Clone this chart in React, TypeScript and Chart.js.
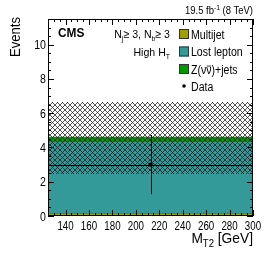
import React, { useEffect, useRef } from "react";
import { Chart, registerables } from "chart.js";

Chart.register(...registerables);

// ---- data ----
const binEdges = [125, 300];
const multijet = [0.17];
const lostLepton = [4.15];
const zinv = [0.3];
const bkgUncLow = [2.45];
const bkgUncHigh = [6.65];
const dataX = [212.5];
const dataY = [3];
const dataErr = [1.73];
const xTickLabels = [140, 160, 180, 200, 220, 240, 260, 280, 300];
const yTickLabels = [0, 2, 4, 6, 8, 10];
const legendLabels = ["Multijet", "Lost lepton", "Z(νν)+jets", "Data"];

const COL_MJ = "#a0a000";
const COL_MJ_LINE = "#5e5e00";
const COL_LL = "#339999";
const COL_Z = "#009a00";

const FONT = '"Liberation Sans", Arial, Helvetica, sans-serif';

function histPoints(edges: number[], vals: number[]) {
  const pts: { x: number; y: number }[] = [];
  for (let i = 0; i < vals.length; i++) {
    pts.push({ x: edges[i], y: vals[i] });
    pts.push({ x: edges[i + 1], y: vals[i] });
  }
  return pts;
}

function makeHatch() {
  const s = 5;
  const c = document.createElement("canvas");
  c.width = s;
  c.height = s;
  const g = c.getContext("2d")!;
  g.strokeStyle = "rgba(20,20,20,0.85)";
  g.lineWidth = 0.85;
  g.beginPath();
  g.moveTo(-1, -1);
  g.lineTo(s + 1, s + 1);
  g.moveTo(s + 1, -1);
  g.lineTo(-1, s + 1);
  g.stroke();
  return g.createPattern(c, "repeat")!;
}

type Part = { t: string; size: number; dy?: number; bold?: boolean; over?: boolean };

function drawRich(
  ctx: CanvasRenderingContext2D,
  parts: Part[],
  x: number,
  y: number,
  align: "left" | "right" | "center",
  sx = 0.9
) {
  let total = 0;
  const widths: number[] = [];
  for (const p of parts) {
    ctx.font = `${p.bold ? "bold " : ""}${p.size}px ${FONT}`;
    const w = ctx.measureText(p.t).width * sx;
    widths.push(w);
    total += w;
  }
  let cx = align === "left" ? x : align === "right" ? x - total : x - total / 2;
  ctx.textAlign = "left";
  ctx.textBaseline = "alphabetic";
  parts.forEach((p, i) => {
    ctx.font = `${p.bold ? "bold " : ""}${p.size}px ${FONT}`;
    ctx.save();
    ctx.translate(cx, y + (p.dy || 0));
    ctx.scale(sx, 1);
    ctx.fillText(p.t, 0, 0);
    ctx.restore();
    if (p.over) {
      ctx.beginPath();
      ctx.lineWidth = 0.8;
      const oy = y + (p.dy || 0) - p.size * 0.62;
      ctx.moveTo(cx + 0.5, oy);
      ctx.lineTo(cx + widths[i] - 0.5, oy);
      ctx.stroke();
    }
    cx += widths[i];
  });
  return total;
}

const decorPlugin = {
  id: "decor",
  afterDatasetsDraw(chart: any) {
    const ctx: CanvasRenderingContext2D = chart.ctx;
    const xs = chart.scales.x;
    const ys = chart.scales.y;
    const { left, right, top, bottom } = chart.chartArea;
    ctx.save();
    // error bars
    ctx.strokeStyle = "#000";
    ctx.lineWidth = 1;
    for (let i = 0; i < dataY.length; i++) {
      const px = Math.round(xs.getPixelForValue(dataX[i])) + 0.5;
      const py = Math.round(ys.getPixelForValue(dataY[i])) + 0.5;
      ctx.beginPath();
      ctx.moveTo(px, ys.getPixelForValue(dataY[i] - dataErr[i]));
      ctx.lineTo(px, ys.getPixelForValue(dataY[i] + dataErr[i]));
      ctx.moveTo(xs.getPixelForValue(binEdges[i]), py);
      ctx.lineTo(xs.getPixelForValue(binEdges[i + 1]), py);
      ctx.stroke();
    }
    // frame
    ctx.strokeStyle = "#000";
    ctx.lineWidth = 1;
    ctx.strokeRect(left + 0.5, top + 0.5, right - left - 1, bottom - top - 1);
    // y ticks
    ctx.beginPath();
    for (let v = 0; v <= ys.max + 1e-6; v += 0.5) {
      const major = Math.abs(v / 2 - Math.round(v / 2)) < 1e-6;
      const L = major ? 6 : 3;
      const py = Math.round(ys.getPixelForValue(v)) + 0.5;
      ctx.moveTo(left, py);
      ctx.lineTo(left + L, py);
      ctx.moveTo(right, py);
      ctx.lineTo(right - L, py);
    }
    // x ticks
    for (let v = xs.min; v <= xs.max + 1e-6; v += 5) {
      const major = v % 20 === 0;
      const L = major ? 6 : 3;
      const px = Math.round(xs.getPixelForValue(v)) + 0.5;
      ctx.moveTo(px, bottom);
      ctx.lineTo(px, bottom - L);
      ctx.moveTo(px, top);
      ctx.lineTo(px, top + L);
    }
    ctx.stroke();
    ctx.fillStyle = "#000";
    // tick labels
    for (const v of xTickLabels) {
      drawRich(ctx, [{ t: String(v), size: 12.5 }], xs.getPixelForValue(v), bottom + 13.5, "center", 0.78);
    }
    for (const v of yTickLabels) {
      drawRich(ctx, [{ t: String(v), size: 12.5 }], left - 2, ys.getPixelForValue(v) + 4.5, "right", 0.85);
    }
    // axis titles
    drawRich(
      ctx,
      [
        { t: "M", size: 14.5 },
        { t: "T2", size: 10, dy: 3.5 },
        { t: " [GeV]", size: 14.5 },
      ],
      right,
      bottom + 27,
      "right",
      0.95
    );
    ctx.save();
    ctx.translate(20, top - 2);
    ctx.rotate(-Math.PI / 2);
    drawRich(ctx, [{ t: "Events", size: 14.5 }], 0, 0, "right", 0.9);
    ctx.restore();
    // lumi
    drawRich(
      ctx,
      [
        { t: "19.5 fb", size: 10.5 },
        { t: "-1", size: 7.5, dy: -4 },
        { t: " (8 TeV)", size: 10.5 },
      ],
      right,
      top - 5,
      "right",
      0.9
    );
    // CMS
    drawRich(ctx, [{ t: "CMS", size: 12.5, bold: true }], left + 10, top + 17.5, "left", 0.95);
    // selection text
    drawRich(
      ctx,
      [
        { t: "N", size: 11.5 },
        { t: "j", size: 7.5, dy: 3 },
        { t: "≥ 3, N", size: 11.5 },
        { t: "b", size: 7.5, dy: 3 },
        { t: "≥ 3", size: 11.5 },
      ],
      170,
      top + 18.5,
      "right",
      0.92
    );
    drawRich(
      ctx,
      [
        { t: "High H", size: 11.5 },
        { t: "T", size: 7.5, dy: 3 },
      ],
      170,
      top + 36.5,
      "right",
      0.92
    );
    // legend
    const legColors = [COL_MJ, COL_LL, COL_Z];
    const rowY = [34, 51.5, 69, 86];
    for (let i = 0; i < 3; i++) {
      ctx.fillStyle = legColors[i];
      ctx.fillRect(179, rowY[i] - 5, 10, 10);
      ctx.strokeStyle = "#333";
      ctx.lineWidth = 1;
      ctx.strokeRect(179.5, rowY[i] - 4.5, 9, 9);
    }
    ctx.fillStyle = "#000";
    ctx.beginPath();
    ctx.arc(184, rowY[3], 1.8, 0, Math.PI * 2);
    ctx.fill();
    ctx.strokeStyle = "#000";
    const lsz = 12;
    const lsx = 0.88;
    drawRich(ctx, [{ t: legendLabels[0], size: lsz }], 191, rowY[0] + 4.5, "left", lsx);
    drawRich(ctx, [{ t: legendLabels[1], size: lsz }], 191, rowY[1] + 4.5, "left", lsx);
    drawRich(
      ctx,
      [
        { t: "Z(ν", size: lsz },
        { t: "ν", size: lsz, over: true },
        { t: ")+jets", size: lsz },
      ],
      191,
      rowY[2] + 4.5,
      "left",
      lsx
    );
    drawRich(ctx, [{ t: legendLabels[3], size: lsz }], 191, rowY[3] + 4.5, "left", lsx);
    ctx.restore();
  },
};

export default function App() {
  const ref = useRef<HTMLCanvasElement>(null);
  useEffect(() => {
    document.body.style.margin = "0";
    const cumLL = lostLepton.map((v, i) => v + multijet[i]);
    const cumZ = zinv.map((v, i) => v + cumLL[i]);
    const hatch = makeHatch();
    const base = { pointRadius: 0, tension: 0, borderWidth: 0 };
    const chart = new Chart(ref.current!, {
      type: "line",
      data: {
        datasets: [
          {
            ...base,
            label: "Multijet",
            data: histPoints(binEdges, multijet),
            fill: "origin",
            backgroundColor: COL_MJ,
            borderColor: COL_MJ_LINE,
            borderWidth: 1,
            order: 6,
          },
          {
            ...base,
            label: "Lost lepton",
            data: histPoints(binEdges, cumLL),
            fill: 0,
            backgroundColor: COL_LL,
            borderColor: COL_LL,
            order: 5,
          },
          {
            ...base,
            label: "Z",
            data: histPoints(binEdges, cumZ),
            fill: 1,
            backgroundColor: COL_Z,
            borderColor: COL_Z,
            order: 4,
          },
          {
            ...base,
            label: "uncLow",
            data: histPoints(binEdges, bkgUncLow),
            fill: false,
            order: 3,
          },
          {
            ...base,
            label: "uncHigh",
            data: histPoints(binEdges, bkgUncHigh),
            fill: 3,
            backgroundColor: hatch as any,
            order: 2,
          },
          {
            type: "scatter",
            label: "Data",
            data: dataX.map((x, i) => ({ x, y: dataY[i] })),
            pointRadius: 2.2,
            pointBackgroundColor: "#000",
            pointBorderColor: "#000",
            pointBorderWidth: 0,
            showLine: false,
            order: 1,
          } as any,
        ],
      },
      options: {
        animation: false,
        responsive: false,
        maintainAspectRatio: false,
        layout: { padding: { left: 0, right: 13, top: 19, bottom: 0 } },
        plugins: { legend: { display: false }, tooltip: { enabled: false } },
        scales: {
          x: {
            type: "linear",
            min: binEdges[0],
            max: binEdges[binEdges.length - 1],
            grid: { display: false },
            border: { display: false },
            ticks: { display: false },
            afterFit: (s: any) => {
              s.height = 39;
            },
          },
          y: {
            type: "linear",
            min: 0,
            max: 11.5,
            grid: { display: false },
            border: { display: false },
            ticks: { display: false },
            afterFit: (s: any) => {
              s.width = 48;
            },
          },
        },
      },
      plugins: [decorPlugin],
    });
    return () => chart.destroy();
  }, []);
  return (
    <div style={{ position: "absolute", left: 0, top: 0, width: 266, height: 255, background: "#fff" }}>
      <canvas ref={ref} width={266} height={255} style={{ display: "block", width: 266, height: 255 }} />
    </div>
  );
}
